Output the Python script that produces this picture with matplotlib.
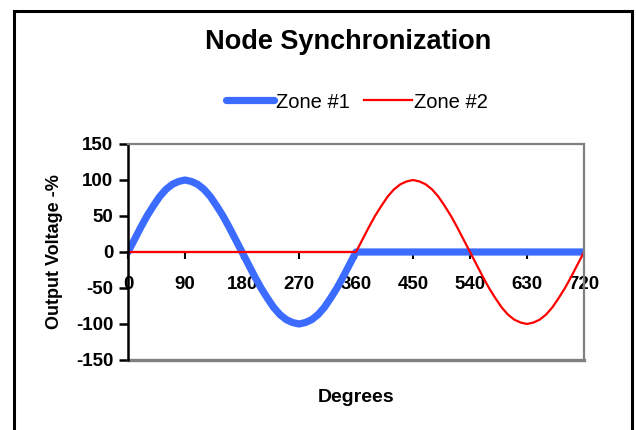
import matplotlib
matplotlib.use("Agg")
import matplotlib.pyplot as plt
from matplotlib.patches import Rectangle

plt.rcParams["font.family"] = ["Liberation Sans", "DejaVu Sans"]
plt.rcParams["axes.unicode_minus"] = False

# Data (every 10 degrees)

degrees = list(range(0, 730, 10))

zone1 = [0, 17, 34, 50, 64, 77, 87, 94, 98, 100, 98, 94, 87, 77, 64, 50, 34, 17,
         0, -17, -34, -50, -64, -77, -87, -94, -98, -100, -98, -94, -87, -77, -64, -50, -34, -17,
         0, 0, 0, 0, 0, 0, 0, 0, 0, 0, 0, 0, 0, 0, 0, 0, 0, 0,
         0, 0, 0, 0, 0, 0, 0, 0, 0, 0, 0, 0, 0, 0, 0, 0, 0, 0, 0]

zone2 = [0, 0, 0, 0, 0, 0, 0, 0, 0, 0, 0, 0, 0, 0, 0, 0, 0, 0,
         0, 0, 0, 0, 0, 0, 0, 0, 0, 0, 0, 0, 0, 0, 0, 0, 0, 0,
         0, 17, 34, 50, 64, 77, 87, 94, 98, 100, 98, 94, 87, 77, 64, 50, 34, 17,
         0, -17, -34, -50, -64, -77, -87, -94, -98, -100, -98, -94, -87, -77, -64, -50, -34, -17, 0]

x_ticks = [0, 90, 180, 270, 360, 450, 540, 630, 720]
y_ticks = [-150, -100, -50, 0, 50, 100, 150]

W, H = 636, 430

fig = plt.figure(figsize=(W / 100, H / 100), dpi=100)
fig.patch.set_facecolor("white")

# outer chart border
fig.patches.append(Rectangle((14 / W, -0.02), (632 - 14) / W, 1.02 - 11 / H,
                             transform=fig.transFigure, fill=False,
                             edgecolor="black", linewidth=2.2))

ax = fig.add_axes([128 / W, 1 - 360 / H, (584 - 128) / W, (360 - 144) / H])

ax.plot(degrees, zone1, color="#3B6CFF", linewidth=5.2,
        solid_capstyle="round", label="Zone #1")
ax.plot(degrees, zone2, color="#FF0000", linewidth=1.6, label="Zone #2")

ax.set_xlim(0, 720)
ax.set_ylim(-150, 150)
ax.set_xticks(x_ticks)
ax.set_yticks(y_ticks)

ax.spines["bottom"].set_position(("data", 0))
ax.spines["bottom"].set_color("black")
ax.spines["bottom"].set_linewidth(1.5)
ax.spines["bottom"].set_zorder(1)
ax.spines["left"].set_color("black")
ax.spines["left"].set_linewidth(1.8)
for side in ["top", "right"]:
    ax.spines[side].set_color("#808080")
    ax.spines[side].set_linewidth(1.6)
ax.axhline(-150, color="#808080", linewidth=2.4, clip_on=False)

ax.tick_params(axis="x", direction="out", length=5, width=1.5, pad=12,
               labelsize=13.5)
ax.tick_params(axis="y", direction="out", length=6.5, width=1.8, pad=4,
               labelsize=13.5)
for lab in ax.get_xticklabels() + ax.get_yticklabels():
    lab.set_fontweight("bold")

ax.set_xlabel("Degrees", fontsize=14, fontweight="bold")
ax.xaxis.set_label_coords(0.5, -0.135)
ax.set_ylabel("Output Voltage -%", fontsize=13, fontweight="bold")
ax.yaxis.set_label_coords(-0.143, 0.5)

fig.text(348 / W, 1 - 42 / H, "Node Synchronization", ha="center", va="center",
         fontsize=19.5, fontweight="bold")

fig.legend(loc="center", bbox_to_anchor=(357 / W, 1 - 102 / H), ncol=2,
           frameon=False, fontsize=14.5, handlelength=2.4, handletextpad=0.1,
           columnspacing=0.7, borderpad=0)

fig.savefig("out.png", dpi=100)
